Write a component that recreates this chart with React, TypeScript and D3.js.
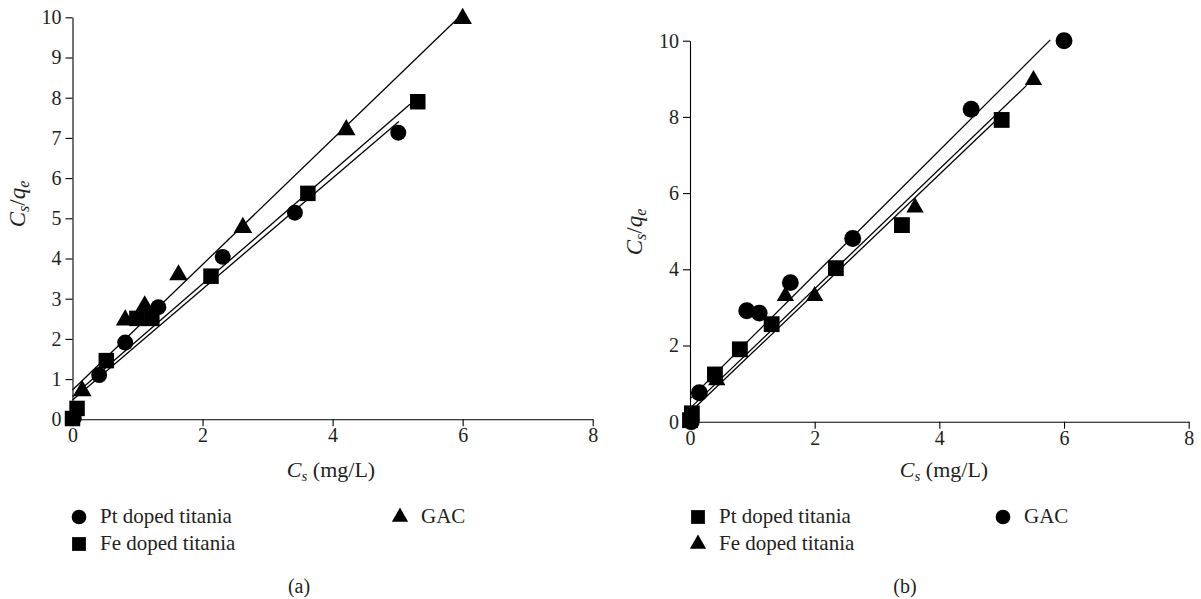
import React, { useEffect, useRef } from 'react';
import * as d3 from 'd3';

interface Point {
  x: number;
  y: number;
}

interface Fit {
  intercept: number;
  slope: number;
  xEnd: number;
}

type Shape = 'circle' | 'square' | 'triangle';

// tick values
const xTicks = [0, 2, 4, 6, 8];
const yTicksA = [0, 1, 2, 3, 4, 5, 6, 7, 8, 9, 10];
const yTicksB = [0, 2, 4, 6, 8, 10];

// series names
const seriesNames = ['Pt doped titania', 'Fe doped titania', 'GAC'];

// panel (a) points
const ptA: Point[] = [
  { x: 0.02, y: 0.03 }, { x: 0.41, y: 1.1 }, { x: 0.81, y: 1.91 }, { x: 1.32, y: 2.79 },
  { x: 2.31, y: 4.04 }, { x: 3.42, y: 5.14 }, { x: 5.01, y: 7.13 },
];
const feA: Point[] = [
  { x: 0.0, y: 0.02 }, { x: 0.07, y: 0.27 }, { x: 0.52, y: 1.46 }, { x: 0.99, y: 2.51 },
  { x: 1.22, y: 2.51 }, { x: 2.13, y: 3.56 }, { x: 3.62, y: 5.62 }, { x: 5.31, y: 7.9 },
];
const gacA: Point[] = [
  { x: 0.15, y: 0.71 }, { x: 0.81, y: 2.47 }, { x: 1.11, y: 2.82 }, { x: 1.63, y: 3.59 },
  { x: 2.62, y: 4.77 }, { x: 4.21, y: 7.2 }, { x: 6.0, y: 9.97 },
];
const fitPtA: Fit = { intercept: 0.48, slope: 1.38, xEnd: 5.02 };
const fitFeA: Fit = { intercept: 0.57, slope: 1.4, xEnd: 5.19 };
const fitGacA: Fit = { intercept: 0.73, slope: 1.56, xEnd: 5.92 };

// panel (b) points
const ptB: Point[] = [
  { x: 0.0, y: 0.04 }, { x: 0.03, y: 0.22 }, { x: 0.4, y: 1.24 }, { x: 0.8, y: 1.9 },
  { x: 1.31, y: 2.56 }, { x: 2.34, y: 4.03 }, { x: 3.4, y: 5.16 }, { x: 5.0, y: 7.92 },
];
const feB: Point[] = [
  { x: 0.43, y: 1.09 }, { x: 1.53, y: 3.3 }, { x: 2.0, y: 3.3 }, { x: 3.61, y: 5.62 },
  { x: 5.51, y: 8.97 },
];
const gacB: Point[] = [
  { x: 0.02, y: 0.0 }, { x: 0.15, y: 0.76 }, { x: 0.91, y: 2.91 }, { x: 1.11, y: 2.85 },
  { x: 1.61, y: 3.65 }, { x: 2.61, y: 4.81 }, { x: 4.51, y: 8.2 }, { x: 6.0, y: 10.0 },
];
const fitPtB: Fit = { intercept: 0.25, slope: 1.56, xEnd: 4.97 };
const fitFeB: Fit = { intercept: 0.35, slope: 1.57, xEnd: 5.4 };
const fitGacB: Fit = { intercept: 0.6, slope: 1.63, xEnd: 5.78 };

const FONT = "'Liberation Serif', 'Times New Roman', serif";

interface SeriesCfg {
  name: string;
  shape: Shape;
  data: Point[];
  fit: Fit;
  size: number;
  legend: [number, number];
}

interface PanelCfg {
  left: number;
  right: number;
  top: number;
  bottom: number;
  yTicks: number[];
  yTitle: [number, number];
  xTitle: [number, number];
  caption: string;
  captionX: number;
  series: SeriesCfg[];
}

const symbolType = (s: Shape) =>
  s === 'circle' ? d3.symbolCircle : s === 'square' ? d3.symbolSquare : d3.symbolTriangle;

const panels: PanelCfg[] = [
  {
    left: 72.5, right: 592.7, top: 17.3, bottom: 419.3,
    yTicks: yTicksA, yTitle: [25, 204], xTitle: [331, 477], caption: '(a)', captionX: 299,
    series: [
      { name: seriesNames[0], shape: 'circle', data: ptA, fit: fitPtA, size: 200, legend: [79, 517] },
      { name: seriesNames[1], shape: 'square', data: feA, fit: fitFeA, size: 240, legend: [79, 544] },
      { name: seriesNames[2], shape: 'triangle', data: gacA, fit: fitGacA, size: 150, legend: [400, 517] },
    ],
  },
  {
    left: 690, right: 1188.7, top: 40.7, bottom: 421.7,
    yTicks: yTicksB, yTitle: [642, 232], xTitle: [944, 477], caption: '(b)', captionX: 905,
    series: [
      { name: seriesNames[0], shape: 'square', data: ptB, fit: fitPtB, size: 250, legend: [698, 517] },
      { name: seriesNames[1], shape: 'triangle', data: feB, fit: fitFeB, size: 130, legend: [698, 544] },
      { name: seriesNames[2], shape: 'circle', data: gacB, fit: fitGacB, size: 225, legend: [1003, 517] },
    ],
  },
];

const legendSize: Record<Shape, number> = { circle: 170, square: 190, triangle: 115 };

const App: React.FC = () => {
  const svgRef = useRef<SVGSVGElement>(null);

  useEffect(() => {
    const svg = d3.select(svgRef.current!);
    svg.selectAll('*').remove();

    panels.forEach((p) => {
      const x = d3.scaleLinear().domain([0, 8]).range([p.left, p.right]);
      const y = d3.scaleLinear().domain([0, 10]).range([p.bottom, p.top]);
      const g = svg.append('g');

      // axes
      const xAxis = g
        .append('g')
        .attr('transform', `translate(0,${p.bottom})`)
        .call(d3.axisBottom(x).tickValues(xTicks).tickSize(7).tickSizeOuter(0).tickPadding(2).tickFormat(d3.format('d')));
      const yAxis = g
        .append('g')
        .attr('transform', `translate(${p.left},0)`)
        .call(d3.axisLeft(y).tickValues(p.yTicks).tickSize(7).tickSizeOuter(0).tickPadding(4).tickFormat(d3.format('d')));
      [xAxis, yAxis].forEach((a) => {
        a.attr('font-family', null).attr('font-size', null);
        a.selectAll('path, line').attr('stroke', '#000').attr('stroke-width', 1.1);
        a.selectAll('text')
          .attr('fill', '#231f20')
          .style('font-family', FONT)
          .style('font-size', '20px');
      });

      // fit lines
      p.series.forEach((s) => {
        g.append('line')
          .attr('x1', x(0))
          .attr('y1', y(s.fit.intercept))
          .attr('x2', x(s.fit.xEnd))
          .attr('y2', y(s.fit.intercept + s.fit.slope * s.fit.xEnd))
          .attr('stroke', '#000')
          .attr('stroke-width', 1.3);
      });

      // markers
      p.series.forEach((s) => {
        const sym = d3.symbol().type(symbolType(s.shape)).size(s.size);
        g.selectAll(null)
          .data(s.data)
          .enter()
          .append('path')
          .attr('d', sym()!)
          .attr('transform', (d) => `translate(${x(d.x)},${y(d.y)})`)
          .attr('fill', '#000');
      });

      // y title
      const yt = g
        .append('text')
        .attr('transform', `translate(${p.yTitle[0]},${p.yTitle[1]}) rotate(-90)`)
        .attr('text-anchor', 'middle')
        .style('font-family', FONT)
        .style('font-size', '23px')
        .attr('fill', '#231f20');
      yt.append('tspan').style('font-style', 'italic').text('C');
      yt.append('tspan').style('font-style', 'italic').style('font-size', '16px').attr('dy', 4).text('s');
      yt.append('tspan').attr('dy', -4).text('/');
      yt.append('tspan').style('font-style', 'italic').text('q');
      yt.append('tspan').style('font-style', 'italic').style('font-size', '16px').attr('dy', 4).text('e');

      // x title
      const xt = g
        .append('text')
        .attr('x', p.xTitle[0])
        .attr('y', p.xTitle[1])
        .attr('text-anchor', 'middle')
        .style('font-family', FONT)
        .style('font-size', '22px')
        .attr('fill', '#231f20');
      xt.append('tspan').style('font-style', 'italic').text('C');
      xt.append('tspan').style('font-style', 'italic').style('font-size', '15px').attr('dy', 4).text('s');
      xt.append('tspan').attr('dy', -4).text(' (mg/L)');

      // legend
      p.series.forEach((s) => {
        const sym = d3.symbol().type(symbolType(s.shape)).size(legendSize[s.shape]);
        g.append('path')
          .attr('d', sym()!)
          .attr('transform', `translate(${s.legend[0]},${s.legend[1]})`)
          .attr('fill', '#000');
        g.append('text')
          .attr('x', s.legend[0] + 21)
          .attr('y', s.legend[1] + 6)
          .style('font-family', FONT)
          .style('font-size', '21px')
          .attr('fill', '#231f20')
          .text(s.name);
      });

      // caption
      g.append('text')
        .attr('x', p.captionX)
        .attr('y', 593)
        .attr('text-anchor', 'middle')
        .style('font-family', FONT)
        .style('font-size', '20px')
        .attr('fill', '#231f20')
        .text(p.caption);
    });
  }, []);

  return (
    <svg
      ref={svgRef}
      width={1201}
      height={599}
      style={{ position: 'absolute', left: 0, top: 0, background: '#fff' }}
    />
  );
};

export default App;
